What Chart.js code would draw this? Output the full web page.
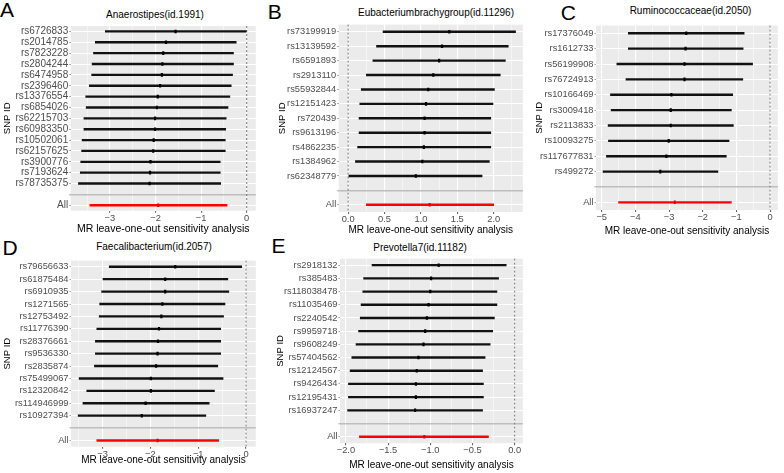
<!DOCTYPE html>
<html>
<head>
<meta charset="utf-8">
<script src="https://cdn.jsdelivr.net/npm/chart.js@4.4.1/dist/chart.umd.min.js"></script>
<style>
body { margin: 0; background: #fff; width: 784px; height: 473px; position: relative; overflow: hidden; font-family: "Liberation Sans", Arial, sans-serif; }
.box { position: absolute; }
.letter { position: absolute; font-size: 21px; line-height: 1; color: #000; }
.ttl { position: absolute; font-size: 10px; line-height: 1.2; color: #000; white-space: nowrap; transform: translate(-50%, -50%); }
</style>
</head>
<body>
<div class="letter" style="left:0px;top:-1px">A</div>
<div class="letter" style="left:267.7px;top:0.6px">B</div>
<div class="letter" style="left:560.7px;top:2.3px">C</div>
<div class="letter" style="left:2.4px;top:237.3px">D</div>
<div class="letter" style="left:271.4px;top:235.3px">E</div>

<div class="ttl" style="left:155px;top:15px">Anaerostipes(id.1991)</div>
<div class="ttl" style="left:436px;top:13.3px">Eubacteriumbrachygroup(id.11296)</div>
<div class="ttl" style="left:690.5px;top:10.7px">Ruminococcaceae(id.2050)</div>
<div class="ttl" style="left:154px;top:247.3px">Faecalibacterium(id.2057)</div>
<div class="ttl" style="left:420px;top:248.3px">Prevotella7(id.11182)</div>

<div class="box" style="left:0px;top:19px;width:262px;height:218px"><canvas id="cA"></canvas></div>
<div class="box" style="left:276px;top:18px;width:253px;height:219px"><canvas id="cB"></canvas></div>
<div class="box" style="left:533px;top:19px;width:251px;height:220px"><canvas id="cC"></canvas></div>
<div class="box" style="left:0px;top:254px;width:262px;height:213px"><canvas id="cD"></canvas></div>
<div class="box" style="left:274px;top:252px;width:255px;height:220px"><canvas id="cE"></canvas></div>

<script>
Chart.defaults.font.family = '"Liberation Sans", Arial, sans-serif'
Chart.defaults.animation = false

// A  Anaerostipes
const snpsA = ['rs6726833', 'rs2014785', 'rs7823228', 'rs2804244', 'rs6474958', 'rs2396460', 'rs13376554', 'rs6854026', 'rs62215703', 'rs60983350', 'rs10502061', 'rs62157625', 'rs3900776', 'rs7193624', 'rs78735375', 'All']
const betaA = [-1.56, -1.77, -1.83, -1.85, -1.86, -1.90, -1.95, -1.97, -2.01, -2.01, -2.04, -2.05, -2.11, -2.12, -2.13, -1.94]
const loA = [-3.10, -3.32, -3.36, -3.39, -3.40, -3.45, -3.53, -3.52, -3.57, -3.57, -3.61, -3.62, -3.64, -3.65, -3.69, -3.44]
const hiA = [-0.01, -0.23, -0.29, -0.29, -0.31, -0.34, -0.37, -0.41, -0.45, -0.46, -0.47, -0.47, -0.58, -0.58, -0.57, -0.43]
const ticksA = [-3, -2, -1, 0]

// B  Eubacterium brachy group
const snpsB = ['rs73199919', 'rs13139592', 'rs6591893', 'rs2913110', 'rs55932844', 'rs12151423', 'rs720439', 'rs9613196', 'rs4862235', 'rs1384962', 'rs62348779', 'All']
const betaB = [1.39, 1.29, 1.25, 1.17, 1.10, 1.07, 1.05, 1.05, 1.04, 1.02, 0.93, 1.12]
const loB = [0.48, 0.39, 0.34, 0.25, 0.18, 0.16, 0.15, 0.15, 0.13, 0.10, 0.01, 0.25]
const hiB = [2.30, 2.20, 2.16, 2.09, 2.01, 1.99, 1.96, 1.96, 1.96, 1.94, 1.84, 2.00]
const ticksB = [0, 0.5, 1, 1.5, 2]

// C  Ruminococcaceae
const snpsC = ['rs17376049', 'rs1612733', 'rs56199908', 'rs76724913', 'rs10166469', 'rs3009418', 'rs2113833', 'rs10093275', 'rs117677831', 'rs499272', 'All']
const betaC = [-2.49, -2.51, -2.54, -2.54, -2.93, -2.95, -2.95, -3.01, -3.08, -3.26, -2.83]
const loC = [-4.21, -4.21, -4.55, -4.28, -4.74, -4.72, -4.81, -4.80, -4.86, -4.96, -4.50]
const hiC = [-0.77, -0.80, -0.52, -0.81, -1.11, -1.15, -1.09, -1.22, -1.30, -1.55, -1.15]
const ticksC = [-5, -4, -3, -2, -1, 0]

// D  Faecalibacterium
const snpsD = ['rs79656633', 'rs61875484', 'rs6910935', 'rs1271565', 'rs12753492', 'rs11776390', 'rs28376661', 'rs9536330', 'rs2835874', 'rs75499067', 'rs12320842', 'rs114946999', 'rs10927394', 'All']
const betaD = [-1.48, -1.69, -1.69, -1.75, -1.77, -1.82, -1.84, -1.85, -1.88, -1.99, -1.99, -2.10, -2.18, -1.85]
const loD = [-2.86, -2.99, -3.02, -3.06, -3.07, -3.12, -3.15, -3.15, -3.17, -3.49, -3.33, -3.41, -3.51, -3.12]
const hiD = [-0.09, -0.38, -0.36, -0.44, -0.47, -0.53, -0.53, -0.53, -0.59, -0.48, -0.66, -0.77, -0.84, -0.57]
const ticksD = [-3, -2, -1, 0]

// E  Prevotella7
const snpsE = ['rs2918132', 'rs385483', 'rs118038478', 'rs11035469', 'rs2240542', 'rs9959718', 'rs9608249', 'rs57404562', 'rs12124567', 'rs9426434', 'rs12195431', 'rs16937247', 'All']
const betaE = [-0.90, -0.99, -1.00, -1.02, -1.04, -1.06, -1.08, -1.14, -1.16, -1.17, -1.17, -1.18, -1.07]
const loE = [-1.69, -1.79, -1.80, -1.82, -1.83, -1.85, -1.88, -1.93, -1.95, -1.97, -1.97, -1.98, -1.84]
const hiE = [-0.10, -0.19, -0.21, -0.21, -0.24, -0.26, -0.29, -0.35, -0.38, -0.37, -0.37, -0.38, -0.31]
const ticksE = [-2, -1.5, -1, -0.5, 0]

// grey panel + dotted line at zero
const panelBg = {
  id: 'panelBg',
  beforeDraw(chart) {
    const { ctx, chartArea: a } = chart
    ctx.save()
    ctx.fillStyle = '#ebebeb'
    ctx.fillRect(a.left, a.top, a.right - a.left, a.bottom - a.top)
    ctx.restore()
  },
  beforeDatasetsDraw(chart) {
    const { ctx, chartArea: a, scales } = chart
    const px = scales.x.getPixelForValue(0)
    ctx.save()
    ctx.strokeStyle = '#808080'
    ctx.lineWidth = 1.1
    ctx.setLineDash([2, 2])
    ctx.beginPath()
    ctx.moveTo(px, a.top)
    ctx.lineTo(px, a.bottom)
    ctx.stroke()
    ctx.restore()
  }
}

const fmt = (v, d) => v.toFixed(d).replace('-', '\u2212')

function drawPanel(p) {
  const n = p.snps.length - 1
  // blank row before "All", like the ggplot version
  const labels = [...p.snps.slice(0, n), '', p.snps[n]]
  const ins = arr => [...arr.slice(0, n), null, arr[n]]
  const beta = ins(p.beta), lo = ins(p.lo), hi = ins(p.hi)
  const isAll = i => labels[i] === 'All'

  const half = (p.ticks[1] - p.ticks[0]) / 2
  const gridVals = []
  for (let k = Math.ceil(p.min / half - 1e-9); k * half <= p.max + 1e-9; k++) gridVals.push(+(k * half).toFixed(6))
  const isMajor = v => p.ticks.some(t => Math.abs(t - v) < 1e-6)

  // point estimate drawn as a short vertical stroke
  const pointSet = (vals, col) => ({
    type: 'line',
    data: vals,
    showLine: false,
    pointStyle: 'line',
    pointRotation: 90,
    pointRadius: 1.8,
    pointBorderWidth: 2.2,
    backgroundColor: col,
    borderColor: col,
    pointBackgroundColor: col,
    pointBorderColor: col,
    order: 0
  })

  new Chart(document.getElementById(p.id), {
    type: 'bar',
    data: {
      labels,
      datasets: [{
        data: lo.map((l, i) => l === null ? null : [l, hi[i]]),
        backgroundColor: labels.map((l, i) => isAll(i) ? '#ff0000' : '#111111'),
        barThickness: 1.7,
        order: 5
      },
      pointSet(beta.map((b, i) => isAll(i) ? null : b), '#000000'),
      pointSet(beta.map((b, i) => isAll(i) ? b : null), '#e00000')]
    },
    options: {
      indexAxis: 'y',
      responsive: true,
      maintainAspectRatio: false,
      events: [],
      layout: { padding: { top: p.padTop, right: p.padRight, left: 0, bottom: 0 } },
      plugins: { legend: { display: false }, tooltip: { enabled: false } },
      scales: {
        x: {
          type: 'linear',
          bounds: 'data',
          min: p.min,
          max: p.max,
          afterBuildTicks: s => { s.ticks = gridVals.map(v => ({ value: v })) },
          afterFit: s => { s.height = p.xh },
          border: { display: false },
          grid: {
            color: '#ffffff',
            lineWidth: c => isMajor(c.tick.value) ? 1.1 : 0.5,
            tickColor: c => isMajor(c.tick.value) ? '#666666' : 'rgba(0,0,0,0)',
            tickLength: 2
          },
          ticks: {
            autoSkip: false,
            maxRotation: 0,
            padding: 0,
            color: '#4d4d4d',
            font: { size: 9.3 },
            callback: v => isMajor(v) ? fmt(v, p.dec) : ''
          },
          title: {
            display: true,
            text: 'MR leave-one-out sensitivity analysis',
            color: '#000',
            font: { size: p.fx },
            padding: { top: 0, bottom: p.tpx }
          }
        },
        y: {
          type: 'category',
          offset: true,
          afterFit: s => { s.width = p.yw },
          border: { display: false },
          grid: {
            offset: false,
            color: c => labels[c.index] === '' ? '#bebebe' : '#ffffff',
            lineWidth: c => labels[c.index] === '' ? 1.6 : 1,
            tickColor: '#8c8c8c',
            tickWidth: 0.8,
            tickLength: 1.5
          },
          ticks: { autoSkip: false, padding: 1, color: '#4d4d4d', font: { size: p.fy } },
          title: {
            display: true,
            text: 'SNP ID',
            color: '#000',
            font: { size: 9.5 },
            padding: { top: p.tpy, bottom: 0 }
          }
        }
      }
    },
    plugins: [panelBg]
  })
}

drawPanel({ id: 'cA', snps: snpsA, beta: betaA, lo: loA, hi: hiA, ticks: ticksA, min: -3.86, max: 0.2, dec: 0,
  padTop: 2.7, padRight: 2.7, yw: 70.7, xh: 26.3, fy: 10, fx: 10.5, tpx: 1.4, tpy: 1.3 })
drawPanel({ id: 'cB', snps: snpsB, beta: betaB, lo: loB, hi: hiB, ticks: ticksB, min: -0.13, max: 2.4, dec: 1,
  padTop: 2.7, padRight: 2.3, yw: 62.7, xh: 25, fy: 9.3, fx: 10, tpx: 1, tpy: 1 })
drawPanel({ id: 'cC', snps: snpsC, beta: betaC, lo: loC, hi: hiC, ticks: ticksC, min: -5.17, max: 0.23, dec: 0,
  padTop: 2.7, padRight: 2, yw: 63, xh: 29, fy: 9.3, fx: 10, tpx: 1.3, tpy: 0.5 })
drawPanel({ id: 'cD', snps: snpsD, beta: betaD, lo: loD, hi: hiD, ticks: ticksD, min: -3.66, max: 0.205, dec: 0,
  padTop: 2.7, padRight: 2.7, yw: 71, xh: 20.3, fy: 9.3, fx: 10, tpx: 1, tpy: 2 })
drawPanel({ id: 'cE', snps: snpsE, beta: betaE, lo: loE, hi: hiE, ticks: ticksE, min: -2.07, max: 0.097, dec: 1,
  padTop: 3, padRight: 2.3, yw: 66, xh: 28.7, fy: 9.3, fx: 10, tpx: 1, tpy: 1 })
</script>
</body>
</html>
